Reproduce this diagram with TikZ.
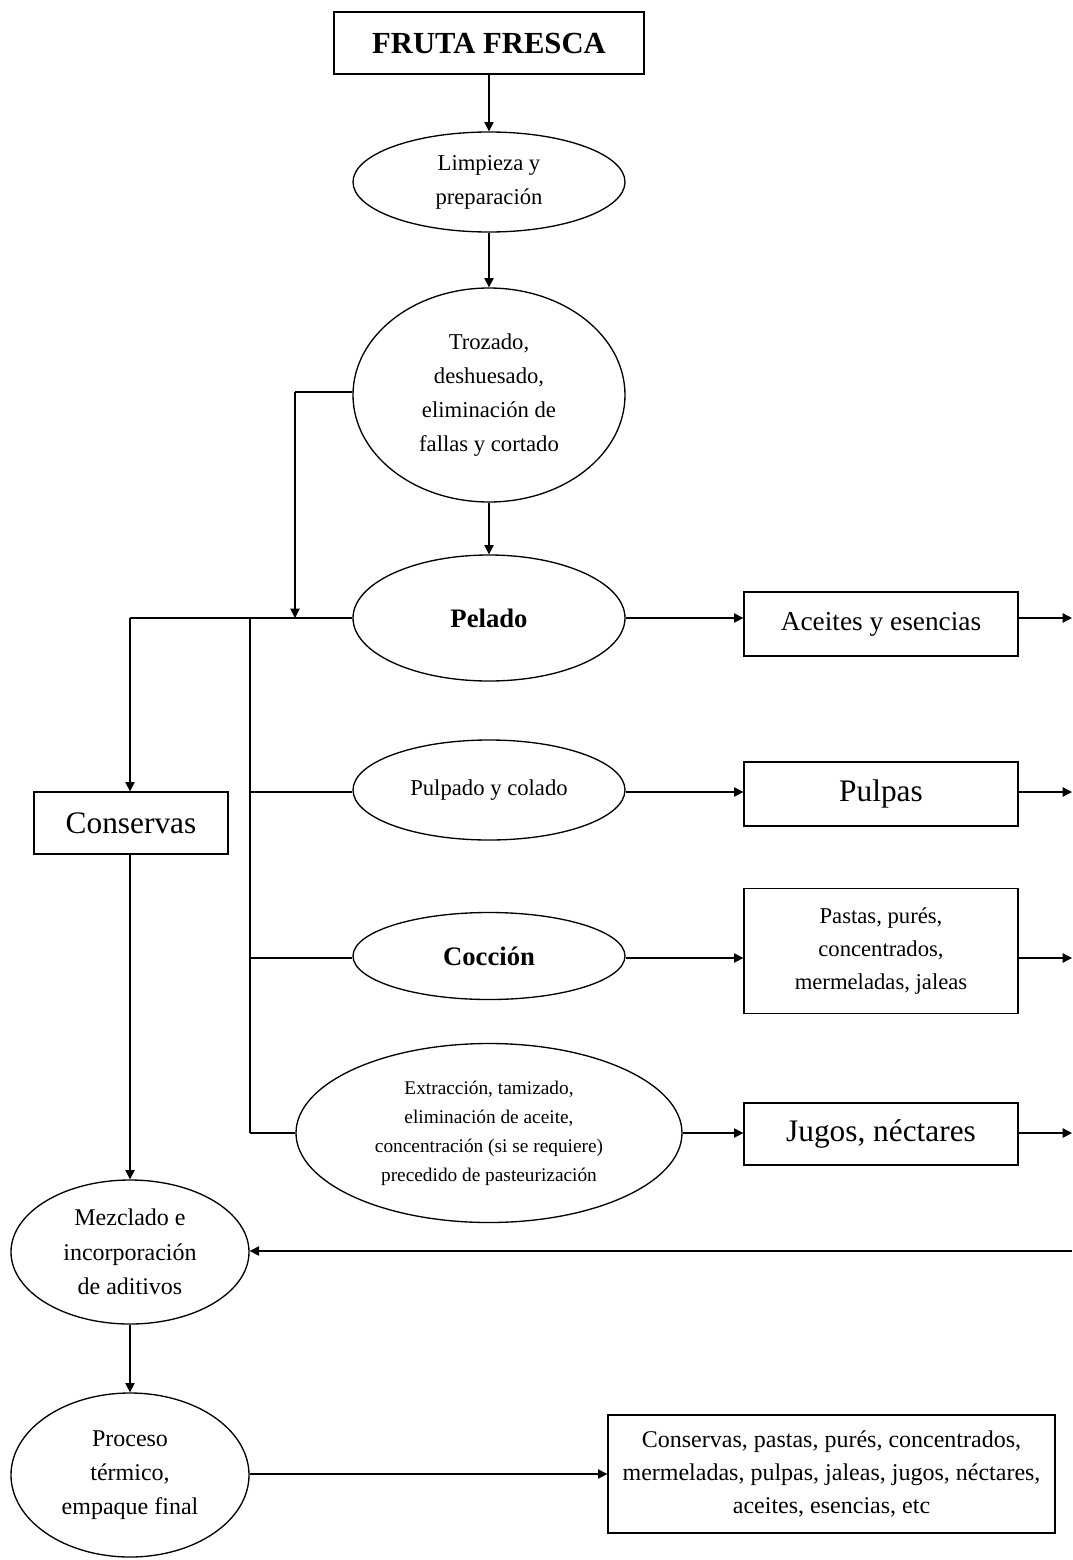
\documentclass[tikz,border=0pt]{standalone}
\usepackage{fontspec}
\setmainfont{Liberation Serif}
\usetikzlibrary{shapes.geometric,arrows.meta}
\begin{document}
\begin{tikzpicture}[x=0.75pt,y=-0.75pt, line width=1pt,
  ell/.style={draw,ellipse,inner sep=0pt,align=center,font=\fontsize{17}{25.5}\selectfont},
  box/.style={draw,rectangle,inner sep=0pt,align=center},
  arr/.style={-{Triangle[length=7pt,width=7pt]}},
  ]
\useasboundingbox[fill=white] (0,0) rectangle (1072,1560);
% main column
\node[box,minimum width=232.5pt,minimum height=46.5pt,font=\fontsize{23}{27}\selectfont\bfseries] (fruta) at (489,43) {FRUTA FRESCA};
\node[ell,minimum width=204pt,minimum height=75pt] (limp) at (489,182) {Limpieza y\\preparación};
\node[ell,minimum width=204pt,minimum height=160.5pt] (troz) at (489,395) {Trozado,\\deshuesado,\\eliminación de\\fallas y cortado};
\node[ell,minimum width=204pt,minimum height=94.5pt,font=\fontsize{20}{24}\selectfont\bfseries] (pel) at (489,618) {Pelado};
\node[ell,minimum width=204pt,minimum height=75pt] (pulp) at (489,790) {Pulpado y colado};
\node[ell,minimum width=204pt,minimum height=65.25pt,font=\fontsize{20}{24}\selectfont\bfseries] (cocc) at (489,956) {Cocción};
\node[ell,minimum width=289.5pt,minimum height=134.25pt,font=\fontsize{14.5}{21.75}\selectfont] (extr) at (489,1133) {Extracción, tamizado,\\eliminación de aceite,\\concentración (si se requiere)\\precedido de pasteurización};
% products
\node[box,minimum width=205.5pt,minimum height=48pt,font=\fontsize{20.5}{24}\selectfont] (acei) at (881,624) {Aceites y esencias};
\node[box,minimum width=205.5pt,minimum height=48pt,font=\fontsize{23.5}{27}\selectfont] (pulpas) at (881,794) {Pulpas};
\node[box,minimum width=205.5pt,minimum height=93.75pt,font=\fontsize{17}{25}\selectfont] (past) at (881,951) {Pastas, purés,\\concentrados,\\mermeladas, jaleas};
\node[box,minimum width=205.5pt,minimum height=46.5pt,font=\fontsize{23.5}{27}\selectfont] (jugo) at (881,1134) {Jugos, néctares};
% left column
\node[box,minimum width=145.5pt,minimum height=46.5pt,font=\fontsize{23.5}{27}\selectfont] (cons) at (131,823) {Conservas};
\node[ell,minimum width=178.5pt,minimum height=108pt,font=\fontsize{18}{26}\selectfont] (mezc) at (130,1252) {Mezclado e\\incorporación\\de aditivos};
\node[ell,minimum width=178.5pt,minimum height=123pt,font=\fontsize{18}{25.5}\selectfont] (proc) at (130,1475) {Proceso\\térmico,\\empaque final};
\node[box,minimum width=335.25pt,minimum height=88.5pt,font=\fontsize{18}{24.75}\selectfont] (final) at (831.5,1474) {Conservas, pastas, purés, concentrados,\\mermeladas, pulpas, jaleas, jugos, néctares,\\aceites, esencias, etc};
% coordinates
\coordinate (jA) at (295,392);
\coordinate (jB) at (295,618);
\coordinate (jL) at (130,618);
\coordinate (jV) at (250,618);
\coordinate (jV1) at (250,792);
\coordinate (jV2) at (250,958);
\coordinate (jV3) at (250,1133);
\coordinate (eA) at (1072,618);
\coordinate (eP) at (1072,792);
\coordinate (eC) at (1072,958);
\coordinate (eJ) at (1072,1133);
\coordinate (eR) at (1072,1251);
% connectors
\draw[arr] (fruta) -- (limp);
\draw[arr] (limp) -- (troz);
\draw[arr] (troz) -- (pel);
\draw (troz.west |- jA) -- (jA);
\draw[arr] (jA) -- (jB);
\draw (pel.west) -- (jL);
\draw[arr] (jL) -- (cons.north -| jL);
\draw (jV) -- (jV3);
\draw (jV1) -- (pulp.west |- jV1);
\draw (jV2) -- (cocc.west |- jV2);
\draw (jV3) -- (extr.west |- jV3);
\draw[arr] (pel.east) -- (acei.west |- pel.east);
\draw[arr] (pulp.east |- jV1) -- (pulpas.west |- jV1);
\draw[arr] (cocc.east |- jV2) -- (past.west |- jV2);
\draw[arr] (extr.east |- jV3) -- (jugo.west |- jV3);
\draw[arr] (acei.east |- eA) -- (eA);
\draw[arr] (pulpas.east |- eP) -- (eP);
\draw[arr] (past.east |- eC) -- (eC);
\draw[arr] (jugo.east |- eJ) -- (eJ);
\draw[arr] (cons.south -| jL) -- (mezc.north -| jL);
\draw[arr] (eR) -- (mezc.east |- eR);
\draw[arr] (mezc) -- (proc);
\draw[arr] (proc.east |- final.west) -- (final.west);
\end{tikzpicture}
\end{document}
